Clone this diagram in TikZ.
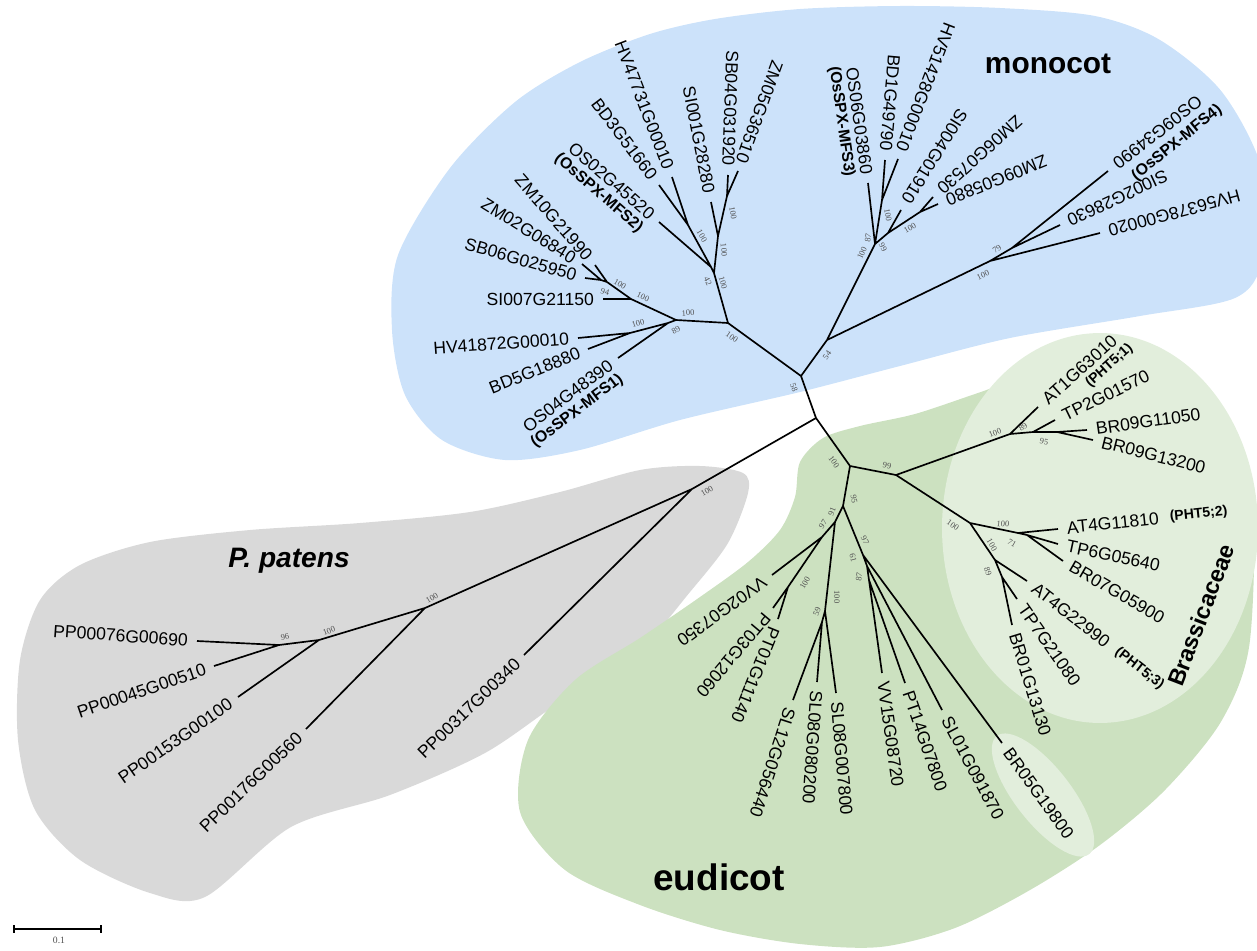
\documentclass[tikz,border=0pt]{standalone}
\usepackage{fontspec}
\setmainfont{Liberation Sans}
\newfontfamily\bootfont{Liberation Serif}
\usepackage{tikz}
\usetikzlibrary{arrows.meta}
\definecolor{monoblue}{RGB}{204,226,250}
\definecolor{mossgray}{RGB}{217,217,217}
\definecolor{dicotgreen}{RGB}{204,225,192}
\definecolor{brasgreen}{RGB}{226,238,220}
\definecolor{bootgray}{RGB}{80,80,80}
\tikzset{
  branch/.style={line width=0.95pt, color=black},
  inlab/.style={anchor=east, inner xsep=5pt, inner ysep=1pt,
    font=\fontsize{10}{12}\selectfont},
  outlab/.style={anchor=west, inner xsep=5pt, inner ysep=1pt,
    font=\fontsize{10}{12}\selectfont},
  mfstag/.style={inner xsep=5pt, inner ysep=1pt,
    font=\bfseries\fontsize{9}{11}\selectfont},
  phttag/.style={inner xsep=1pt, inner ysep=1pt,
    font=\bfseries\fontsize{8}{10}\selectfont},
  boot/.style={inner sep=0pt, text=bootgray,
    font=\bootfont\fontsize{4.8}{5}\selectfont},
  clade/.style={inner sep=0pt, font=\bfseries\fontsize{17}{20}\selectfont},
  scalebar/.style={line width=0.9pt, arrows={Bar[width=4pt]-Bar[width=4pt]}}
}

\begin{document}
\begin{tikzpicture}[x=0.02cm, y=-0.02cm]
  \useasboundingbox (0,0) rectangle (1257,950);
  \begin{scope}
    \clip (0,0) rectangle (1257,950);
    \fill[monoblue] plot[smooth cycle] coordinates {(392,330) (398,255) (450,168) (515,102)
      (580,62) (650,34) (715,19) (800,9) (900,6) (1000,8) (1095,16) (1160,40) (1222,92)
      (1262,170) (1262,260) (1235,298) (1140,316) (1010,338) (900,366) (800,392) (680,420)
      (580,450) (505,460) (442,440) (405,395)};
    \fill[mossgray] plot[smooth cycle] coordinates {(748,493) (743,473) (700,466) (640,470)
      (560,492) (470,512) (360,523) (250,530) (150,542) (80,565) (40,600) (20,660) (18,740)
      (35,810) (80,860) (150,893) (205,897) (291,827) (390,795) (485,753) (560,702) (631,660)
      (690,592) (728,543)};
    \fill[dicotgreen] plot[smooth cycle] coordinates {(800,462) (823,438) (860,426) (915,414)
      (975,394) (1040,372) (1130,352) (1200,395) (1250,480) (1250,640) (1222,720) (1165,790)
      (1100,845) (1030,890) (955,928) (880,947) (800,944) (720,930) (640,905) (565,870)
      (520,812) (528,740) (575,680) (640,638) (700,597) (748,562) (780,530) (795,497)};
    \fill[brasgreen] (1100,528) ellipse [x radius=3.16cm, y radius=3.9cm];
    \fill[brasgreen, rotate around={-52:(1043,795)}] (1043,795) ellipse [x radius=1.5cm, y radius=0.56cm];
  \end{scope}

  \coordinate (A) at (801,376);
  \coordinate (B) at (816,418);
  \coordinate (C) at (850,466);
  \coordinate (D) at (896,475);
  \coordinate (E) at (843,506);
  \coordinate (M1) at (728,323);
  \coordinate (M2) at (827,340);
  \coordinate (M3) at (676,320);
  \coordinate (M4) at (714,273);
  \coordinate (M5) at (631,299);
  \coordinate (M6) at (607,282);
  \coordinate (M7) at (601,280);
  \coordinate (M8) at (668,323);
  \coordinate (M9) at (630,333);
  \coordinate (Q1) at (718,236);
  \coordinate (Q2) at (727,196);
  \coordinate (Q3) at (688,225);
  \coordinate (Q4) at (711,267);
  \coordinate (N1) at (875,244);
  \coordinate (N2) at (882,200);
  \coordinate (N3) at (888,233);
  \coordinate (N4) at (920,212);
  \coordinate (R1) at (990,261);
  \coordinate (R2) at (1012,248);
  \coordinate (K1) at (1010,434);
  \coordinate (K2) at (1033,432);
  \coordinate (K3) at (1057,432);
  \coordinate (K4) at (970,523);
  \coordinate (K5) at (1018,533);
  \coordinate (K6) at (1027,535);
  \coordinate (K7) at (995,560);
  \coordinate (K8) at (1002,577);
  \coordinate (F1) at (835,522);
  \coordinate (F2) at (822,537);
  \coordinate (F3) at (788,587);
  \coordinate (F4) at (825,611);
  \coordinate (F5) at (822,622);
  \coordinate (H1) at (863,555);
  \coordinate (H2) at (867,566);
  \coordinate (H3) at (869,580);
  \coordinate (P1) at (692,489);
  \coordinate (P2) at (425,608);
  \coordinate (P3) at (319,640);
  \coordinate (P4) at (279,645);

  \node[inlab, rotate=0] (si007) at (603,299) {SI007G21150};
  \node[inlab, rotate=-49] (zm10) at (595,265) {ZM10G21990};
  \node[inlab, rotate=-32] (zm02) at (582,264) {ZM02G06840};
  \node[inlab, rotate=-16] (sb06) at (585,278) {SB06G025950};
  \node[inlab, rotate=4] (hv41872) at (578,338) {HV41872G00010};
  \node[inlab, rotate=22] (bd5) at (588,349) {BD5G18880};
  \node[inlab, rotate=37] (os04) at (618,358) {OS04G48390};
  \node[mfstag, rotate=37, anchor=north east] (mfs1) at (os04.south east) {(OsSPX-MFS1)};
  \node[inlab, rotate=-53] (bd3) at (659,185) {BD3G51660};
  \node[inlab, rotate=-69] (hv47731) at (672,177) {HV47731G00010};
  \node[inlab, rotate=-41] (os02) at (659,222) {OS02G45520};
  \node[mfstag, rotate=-41, anchor=north east] (mfs2) at (os02.south east) {(OsSPX-MFS2)};
  \node[inlab, rotate=-79] (si001) at (711,202) {SI001G28280};
  \node[inlab, rotate=-92] (sb04) at (728,175) {SB04G031920};
  \node[inlab, rotate=-110] (zm05) at (738,171) {ZM05G36510};
  \node[inlab, rotate=-82] (os06) at (868,183) {OS06G03860};
  \node[mfstag, rotate=-82, anchor=north east] (mfs3) at (os06.south east) {(OsSPX-MFS3)};
  \node[inlab, rotate=-95] (bd1) at (885,160) {BD1G49790};
  \node[inlab, rotate=-111] (hv51428) at (898,159) {HV51428G00010};
  \node[inlab, rotate=-122] (si004) at (901,210) {SI004G01910};
  \node[inlab, rotate=-138] (zm06) at (933,197) {ZM06G07530};
  \node[inlab, rotate=-158] (zm09) at (938,204) {ZM09G05880};
  \node[inlab, rotate=-142] (os09) at (1108,171) {OS09G34990};
  \node[mfstag, rotate=39] (mfs4) at (1177,143) {(OsSPX-MFS4)};
  \node[inlab, rotate=-155] (si002) at (1060,225) {SI002G28630};
  \node[inlab, rotate=-165] (hv56378) at (1100,233) {HV56378G00020};

  \node[outlab, rotate=42] (at1) at (1038,407) {AT1G63010};
  \node[phttag, rotate=42, anchor=north east] (pht1) at (at1.south east) {(PHT5;1)};
  \node[outlab, rotate=26] (tp2) at (1055,420) {TP2G01570};
  \node[outlab, rotate=8] (br09a) at (1087,430) {BR09G11050};
  \node[outlab, rotate=-14] (br09b) at (1093,440) {BR09G13200};
  \node[outlab, rotate=6] (at4a) at (1058,529) {AT4G11810};
  \node[phttag, rotate=6, anchor=west] (pht2) at (at4a.east) {(PHT5;2)};
  \node[outlab, rotate=-12] (tp6) at (1058,544) {TP6G05640};
  \node[outlab, rotate=-30] (br07) at (1063,561) {BR07G05900};
  \node[outlab, rotate=-38] (at4b) at (1027,581) {AT4G22990};
  \node[phttag, rotate=-38, anchor=west] (pht3) at (at4b.east) {(PHT5;3)};
  \node[outlab, rotate=-55] (tp7) at (1017,599) {TP7G21080};
  \node[outlab, rotate=-73] (br01) at (1012,625) {BR01G13130};

  \node[outlab, rotate=-144] (vv02) at (772,575) {VV02G07350};
  \node[outlab, rotate=-130] (pt03) at (773,608) {PT03G12060};
  \node[outlab, rotate=-112] (pt01) at (778,619) {PT01G11140};
  \node[outlab, rotate=-108] (sl12) at (793,700) {SL12G056440};
  \node[outlab, rotate=-94] (sl08a) at (817,682) {SL08G080200};
  \node[outlab, rotate=-85] (sl08b) at (836,693) {SL08G007800};
  \node[outlab, rotate=-82] (vv15) at (882,673) {VV15G08720};
  \node[outlab, rotate=-71] (pt14) at (905,683) {PT14G07800};
  \node[outlab, rotate=-62] (sl01) at (942,710) {SL01G091870};
  \node[outlab, rotate=-54] (br05) at (1002,743) {BR05G19800};

  \node[inlab, rotate=44] (pp317) at (524,655) {PP00317G00340};
  \node[inlab, rotate=44] (pp176) at (306,729) {PP00176G00560};
  \node[inlab, rotate=35] (pp153) at (238,697) {PP00153G00100};
  \node[inlab, rotate=19] (pp045) at (214,666) {PP00045G00510};
  \node[inlab, rotate=-4] (pp076) at (197,641) {PP00076G00690};

  \draw[branch] (A) -- (B) (B) -- (C) (B) -- (P1) (C) -- (D) (C) -- (E) (A) -- (M1) (A) -- (M2);
  \draw[branch] (M1) -- (M3) (M1) -- (M4) (M3) -- (M5) (M5) -- (si007.east) (M5) -- (M6)
    (M6) -- (zm10.east) (M6) -- (M7) (M7) -- (zm02.east) (M7) -- (sb06.east)
    (M3) -- (M8) (M8) -- (os04.east) (M8) -- (M9) (M9) -- (hv41872.east) (M9) -- (bd5.east)
    (M4) -- (Q4) (Q4) -- (os02.east) (Q4) -- (Q3) (Q3) -- (bd3.east) (Q3) -- (hv47731.east)
    (M4) -- (Q1) (Q1) -- (si001.east) (Q1) -- (Q2) (Q2) -- (sb04.east) (Q2) -- (zm05.east);
  \draw[branch] (M2) -- (N1) (N1) -- (os06.east) (N1) -- (N2) (N2) -- (bd1.east)
    (N2) -- (hv51428.east) (N1) -- (N3) (N3) -- (si004.east) (N3) -- (N4) (N4) -- (zm06.east)
    (N4) -- (zm09.east) (M2) -- (R1) (R1) -- (hv56378.east) (R1) -- (R2) (R2) -- (os09.east)
    (R2) -- (si002.east);
  \draw[branch] (D) -- (K1) (K1) -- (at1.west) (K1) -- (K2) (K2) -- (tp2.west) (K2) -- (K3)
    (K3) -- (br09a.west) (K3) -- (br09b.west) (D) -- (K4) (K4) -- (K5) (K5) -- (at4a.west)
    (K5) -- (K6) (K6) -- (tp6.west) (K6) -- (br07.west) (K4) -- (K7) (K7) -- (at4b.west)
    (K7) -- (K8) (K8) -- (tp7.west) (K8) -- (br01.west);
  \draw[branch] (E) -- (F1) (F1) -- (F2) (F2) -- (vv02.west) (F2) -- (F3) (F3) -- (pt03.west)
    (F3) -- (pt01.west) (F1) -- (F4) (F4) -- (sl08b.west) (F4) -- (F5) (F5) -- (sl12.west)
    (F5) -- (sl08a.west) (E) -- (H1) (H1) -- (br05.west) (H1) -- (H2) (H2) -- (sl01.west)
    (H2) -- (H3) (H3) -- (pt14.west) (H3) -- (vv15.west);
  \draw[branch] (P1) -- (pp317.east) (P1) -- (P2) (P2) -- (pp176.east) (P2) -- (P3)
    (P3) -- (pp153.east) (P3) -- (P4) (P4) -- (pp045.east) (P4) -- (pp076.east);

  \node[boot, rotate=-35] (b1) at (732,337) {100};
  \node[boot, rotate=-70] (b2) at (794,388) {58};
  \node[boot, rotate=55] (b3) at (827,355) {54};
  \node[boot, rotate=3] (b4) at (688,313) {100};
  \node[boot, rotate=30] (b5) at (676,330) {89};
  \node[boot, rotate=15] (b6) at (638,323) {100};
  \node[boot, rotate=-25] (b7) at (643,297) {100};
  \node[boot, rotate=-30] (b8) at (620,284) {100};
  \node[boot, rotate=-15] (b9) at (605,292) {94};
  \node[boot, rotate=-65] (b10) at (708,281) {42};
  \node[boot, rotate=-75] (b11) at (723,283) {100};
  \node[boot, rotate=-60] (b12) at (702,236) {100};
  \node[boot, rotate=-85] (b13) at (724,250) {100};
  \node[boot, rotate=-80] (b14) at (733,213) {100};
  \node[boot, rotate=65] (b15) at (862,253) {100};
  \node[boot, rotate=80] (b16) at (868,238) {87};
  \node[boot, rotate=-65] (b17) at (883,247) {99};
  \node[boot, rotate=-80] (b18) at (888,215) {100};
  \node[boot, rotate=30] (b19) at (910,228) {100};
  \node[boot, rotate=35] (b20) at (997,249) {79};
  \node[boot, rotate=25] (b21) at (983,275) {100};
  \node[boot, rotate=-55] (b22) at (834,462) {100};
  \node[boot, rotate=-10] (b23) at (887,466) {99};
  \node[boot, rotate=-80] (b24) at (854,499) {95};
  \node[boot, rotate=30] (b25) at (707,491) {100};
  \node[boot, rotate=22] (b26) at (995,433) {100};
  \node[boot, rotate=35] (b27) at (1023,427) {89};
  \node[boot, rotate=-10] (b28) at (1044,442) {95};
  \node[boot, rotate=-35] (b29) at (953,525) {100};
  \node[boot, rotate=-5] (b30) at (1003,524) {100};
  \node[boot, rotate=-30] (b31) at (1012,543) {71};
  \node[boot, rotate=-60] (b32) at (992,545) {100};
  \node[boot, rotate=-70] (b33) at (988,572) {89};
  \node[boot, rotate=70] (b34) at (832,512) {91};
  \node[boot, rotate=55] (b35) at (823,524) {97};
  \node[boot, rotate=60] (b36) at (805,583) {100};
  \node[boot, rotate=-90] (b37) at (837,597) {100};
  \node[boot, rotate=70] (b38) at (817,612) {59};
  \node[boot, rotate=-65] (b39) at (865,540) {97};
  \node[boot, rotate=-75] (b40) at (853,558) {61};
  \node[boot, rotate=80] (b41) at (859,577) {87};
  \node[boot, rotate=30] (b42) at (432,598) {100};
  \node[boot, rotate=20] (b43) at (329,631) {100};
  \node[boot, rotate=10] (b44) at (285,637) {96};

  \node[clade] (monocot) at (1048,64) {monocot};
  \node[clade, font=\bfseries\fontsize{21}{24}\selectfont] (eudicot) at (719,877) {eudicot};
  \node[clade, font=\bfseries\itshape\fontsize{16}{19}\selectfont] (ppatens) at (289,561) {P. patens};
  \node[clade, rotate=69, font=\bfseries\fontsize{13.3}{16}\selectfont] (brassica) at (1201,615) {Brassicaceae};

  \coordinate (sbl) at (13,929);
  \coordinate (sbr) at (102,929);
  \draw[scalebar] (sbl) -- (sbr);
  \node[boot, font=\bootfont\fontsize{5.5}{6}\selectfont] (sbtxt) at (59,940) {0.1};
\end{tikzpicture}
\end{document}
